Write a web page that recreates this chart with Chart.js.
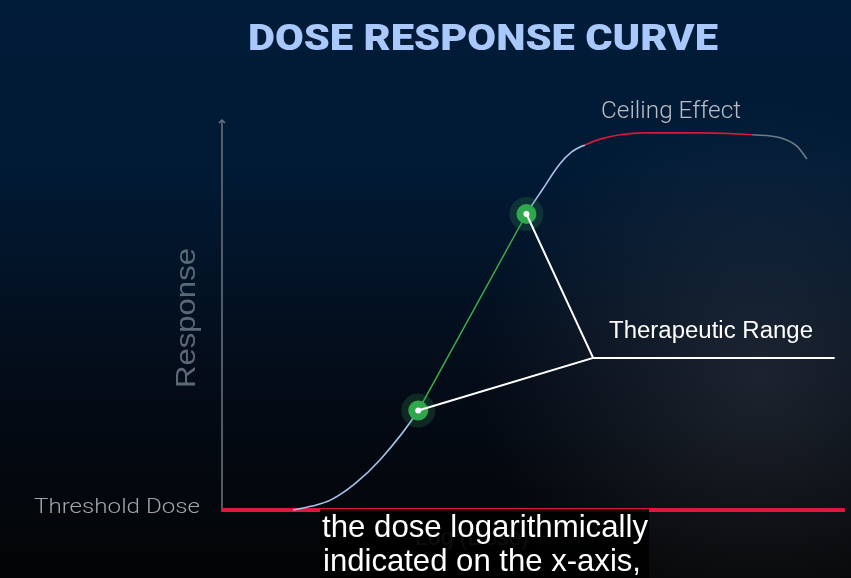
<!DOCTYPE html>
<html>
<head>
<meta charset="utf-8">
<script src="https://cdn.jsdelivr.net/npm/chart.js@4/dist/chart.umd.min.js"></script>
<style>
  html, body { margin: 0; padding: 0; background: #030405; overflow: hidden; }
  canvas { display: block; }
</style>
</head>
<body>
<canvas id="myChart" width="851" height="578"></canvas>
<script>
// values: x = log dose (0-100), y = response (0-100)
const thresholdX = [0, 99];
const thresholdY = [0, 0];

const curveLowX = [11.3, 14.3, 17.3, 21.1, 25.1];
const curveLowY = [0, 1.0, 2.6, 6.7, 12.8];

const effectX = [31.2, 48.4];          // the two green points
const effectY = [25.5, 75.9];

const curveUpX = [51.0, 53.7, 55.6];
const curveUpY = [82.3, 88.7, 91.8];

const ceilingX = [57.7, 60.1, 63.3, 67.2, 76.0, 84.3];
const ceilingY = [93.6, 95.1, 96.2, 96.7, 96.7, 96.2];

const tailX = [88.9, 91.4, 93.0];
const tailY = [95.4, 93.3, 90.0];

const rangeVertex = [59.0, 39.0];
const rangeEnd = [97.4, 39.0];

const pts = (xs, ys) => xs.map((x, i) => ({x: x, y: ys[i]}));

// the whole sigmoid, coloured by part
const curveData = [].concat(
  pts(curveLowX, curveLowY),
  pts([effectX[0]], [effectY[0]]),
  pts([effectX[1]], [effectY[1]]),
  pts(curveUpX, curveUpY),
  pts(ceilingX, ceilingY),
  pts(tailX, tailY)
);

function segColor(sc) {
  const x0 = sc.p0.parsed.x;
  if (x0 >= effectX[0] && x0 < effectX[1]) return 'rgba(0,0,0,0)';
  if (x0 >= ceilingX[ceilingX.length - 1]) return '#6e7a86';
  if (x0 >= ceilingX[0]) return '#d8173c';
  return '#a7c4ee';
}

function fitText(ctx, text, left, cy, w, font, color) {
  ctx.save();
  ctx.font = font;
  ctx.fillStyle = color;
  ctx.textAlign = 'left';
  ctx.textBaseline = 'middle';
  const m = ctx.measureText(text).width;
  ctx.translate(left, cy);
  ctx.scale(w / m, 1);
  ctx.fillText(text, 0, 0);
  ctx.restore();
}

const decor = {
  id: 'decor',
  beforeDraw(chart) {
    const c = chart.ctx;
    const g = c.createLinearGradient(0, 0, 0, 578);
    g.addColorStop(0, '#011c39');
    g.addColorStop(0.3, '#011a34');
    g.addColorStop(0.65, '#040c18');
    g.addColorStop(1, '#030405');
    c.fillStyle = g;
    c.fillRect(0, 0, 851, 578);
    const r = c.createRadialGradient(760, 380, 0, 760, 380, 280);
    r.addColorStop(0, 'rgba(150,150,160,0.17)');
    r.addColorStop(1, 'rgba(150,150,160,0)');
    c.fillStyle = r;
    c.fillRect(0, 0, 851, 578);
  },
  beforeDatasetsDraw(chart) {
    const c = chart.ctx;
    const a = chart.chartArea;
    c.save();
    c.strokeStyle = '#6c7681';
    c.lineWidth = 1.5;
    c.beginPath();
    c.moveTo(a.left, a.top);
    c.lineTo(a.left, a.bottom + 1);
    c.lineTo(a.right - 6, a.bottom + 1);
    c.stroke();
    c.beginPath();
    c.moveTo(a.left - 3, a.top + 3);
    c.lineTo(a.left, a.top);
    c.lineTo(a.left + 3, a.top + 3);
    c.stroke();
    c.restore();
  },
  afterDraw(chart) {
    const c = chart.ctx;
    fitText(c, 'DOSE RESPONSE CURVE', 248, 41, 470, '900 37px Roboto', '#a9c8fb');
    fitText(c, 'Ceiling Effect', 601, 112, 140, '300 23px Roboto', '#b9bec6');
    fitText(c, 'Therapeutic Range', 609, 332, 204, '23px "Liberation Sans"', '#ffffff');
    fitText(c, 'Threshold Dose', 34, 508, 166, '300 21px Roboto', '#a2a6ab');
    c.save();
    c.translate(187, 318);
    c.rotate(-Math.PI / 2);
    fitText(c, 'Response', -70, 0, 140, '28px "Liberation Sans"', '#5c6875');
    c.restore();
    fitText(c, 'Log (Dose)', 415, 538, 114, '24px "Liberation Sans"', '#5c6470');
    // subtitle box
    c.fillStyle = 'rgba(0,0,0,0.86)';
    c.fillRect(320, 509, 329, 69);
    fitText(c, 'the dose logarithmically', 322, 528, 326, '32px "Liberation Sans"', '#ffffff');
    fitText(c, 'indicated on the x-axis,', 323, 562, 318, '32px "Liberation Sans"', '#ffffff');
  }
};

const line = (data, color, width, order) => ({
  data: data,
  showLine: true,
  borderColor: color,
  borderWidth: width,
  pointRadius: 0,
  tension: 0,
  clip: false,
  order: order
});

const ctx = document.getElementById('myChart').getContext('2d');

const myChart = new Chart(ctx, {
  type: 'scatter',
  data: {
    datasets: [
      // white dots in the centre of the green points
      {data: pts(effectX, effectY), pointRadius: 3, pointBackgroundColor: '#ffffff', pointBorderWidth: 0, clip: false, order: 0},
      line([{x: effectX[1], y: effectY[1]}, {x: rangeVertex[0], y: rangeVertex[1]}, {x: effectX[0], y: effectY[0]}], '#ffffff', 2, 1),
      line([{x: rangeVertex[0], y: rangeVertex[1]}, {x: rangeEnd[0], y: rangeEnd[1]}], '#ffffff', 2, 1),
      {data: pts(effectX, effectY), pointRadius: 10, pointBackgroundColor: '#2fa84b', pointBorderWidth: 0, clip: false, order: 2},
      {data: pts(effectX, effectY), pointRadius: 17, pointBackgroundColor: 'rgba(60,150,80,0.22)', pointBorderWidth: 0, clip: false, order: 3},
      line(pts(effectX, effectY), '#3cb04a', 1.5, 4),
      {
        data: curveData,
        showLine: true,
        borderColor: '#a7c4ee',
        borderWidth: 1.6,
        pointRadius: 0,
        cubicInterpolationMode: 'monotone',
        segment: {borderColor: segColor},
        clip: false,
        order: 4
      },
      line(pts(thresholdX, thresholdY), '#e0173d', 4, 5)
    ]
  },
  options: {
    responsive: false,
    animation: false,
    layout: {autoPadding: false, padding: {left: 222, right: 0, top: 120, bottom: 68}},
    scales: {
      x: {type: 'linear', min: 0, max: 100, display: false},
      y: {type: 'linear', min: 0, max: 100, display: false}
    },
    plugins: {
      legend: {display: false},
      tooltip: {enabled: false}
    }
  },
  plugins: [decor]
});
</script>
</body>
</html>
